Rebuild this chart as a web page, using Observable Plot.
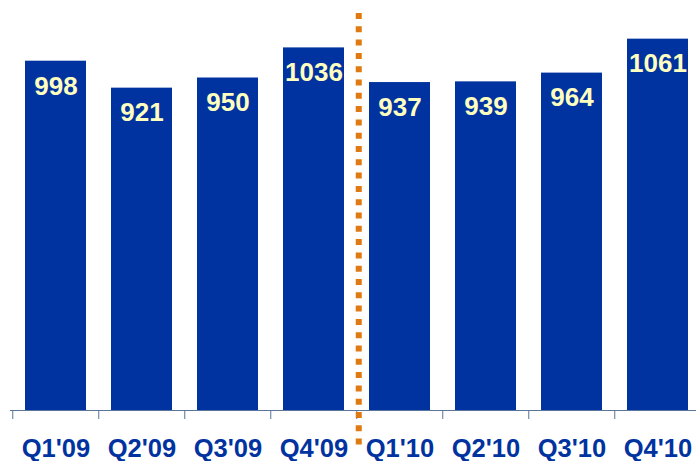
<!DOCTYPE html>
<html>
<head>
<meta charset="utf-8">
<script src="https://cdn.jsdelivr.net/npm/d3@7"></script>
<script src="https://cdn.jsdelivr.net/npm/@observablehq/plot@0.6"></script>
<style>
  html, body { margin: 0; padding: 0; background: #fff; }
  #chart svg { display: block; }
</style>
</head>
<body>
<div id="chart"></div>
<script>
const quarters = ["Q1'09", "Q2'09", "Q3'09", "Q4'09", "Q1'10", "Q2'10", "Q3'10", "Q4'10"];
const values = [998, 921, 950, 1036, 937, 939, 964, 1061];
const dividerAt = ["Q1'10"];

const data = quarters.map((q, i) => ({q, v: values[i]}));

const W = 696, H = 461;
const step = 692 / quarters.length;
const font = "'Liberation Sans', Arial, Helvetica, sans-serif";
const blue = "#0033a0";

const chart = Plot.plot({
  width: W,
  height: H,
  marginTop: 25,
  marginBottom: 51,
  marginLeft: 10,
  marginRight: 0,
  style: {fontFamily: font, background: "#fff", overflow: "visible"},
  x: {domain: quarters, range: [10, 702], paddingInner: 0.295, paddingOuter: 0.1475, axis: null},
  y: {domain: [0, 1100], axis: null},
  marks: [
    Plot.barY(data, {x: "q", y: "v", fill: blue}),
    Plot.ruleY([0], {stroke: "#5b7599", strokeWidth: 1}),
    Plot.ruleX(quarters, {x: d => d, y1: 0, y2: 0, insetTop: 9, dx: -step / 2, stroke: "#5b7599", strokeWidth: 1}),
    Plot.ruleX(dividerAt, {x: d => d, dx: -step / 2 + 2, insetTop: -12, insetBottom: -35,
      stroke: "#e07a10", strokeWidth: 6, strokeDasharray: "6,7.3"}),
    Plot.text(data, {x: "q", y: "v", text: d => String(d.v), dy: 25, fill: "#ffffc0",
      fontSize: 26, fontWeight: "bold", lineAnchor: "middle"}),
    Plot.text(data, {x: "q", y: 0, text: "q", dy: 38, fill: blue,
      fontSize: 25.5, fontWeight: "bold", lineAnchor: "middle"})
  ]
});
document.getElementById("chart").appendChild(chart);
</script>
</body>
</html>
